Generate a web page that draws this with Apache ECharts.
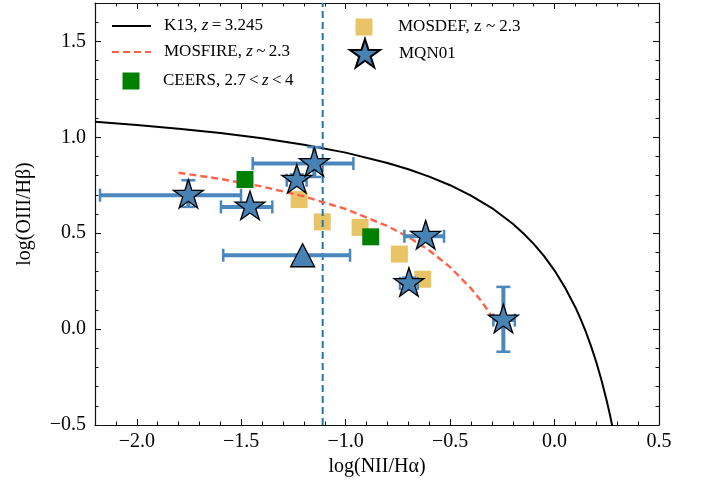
<!DOCTYPE html>
<html>
<head>
<meta charset="utf-8">
<script src="https://cdn.jsdelivr.net/npm/echarts@6/dist/echarts.min.js"></script>
<style>html,body{margin:0;padding:0;background:#fff;}#c{width:702px;height:486px;}</style>
</head>
<body>
<div id="c"></div>
<script>
// ---- data ----
const X_TICKS = [-2.0, -1.5, -1.0, -0.5, 0.0, 0.5];
const Y_TICKS = [-0.5, 0.0, 0.5, 1.0, 1.5];

// K13 curve, z = 3.245
const k13X = [-2.2, -2.0, -1.8, -1.6, -1.4, -1.2, -1.0, -0.8, -0.7, -0.6, -0.5, -0.4, -0.3, -0.2, -0.15, -0.1, -0.05, 0.0, 0.05, 0.1, 0.125, 0.15, 0.175, 0.2, 0.225, 0.25, 0.265, 0.28];
const k13Y = [1.081, 1.064, 1.045, 1.022, 0.995, 0.961, 0.920, 0.866, 0.833, 0.795, 0.750, 0.696, 0.631, 0.549, 0.500, 0.444, 0.380, 0.305, 0.217, 0.113, 0.052, -0.015, -0.090, -0.173, -0.268, -0.375, -0.446, -0.525];

// MOSFIRE z~2.3 curve
const mosfireX = [-1.8, -1.6, -1.4, -1.2, -1.0, -0.8, -0.7, -0.6, -0.5, -0.4, -0.35, -0.3];
const mosfireY = [0.815, 0.783, 0.743, 0.692, 0.626, 0.537, 0.480, 0.410, 0.323, 0.212, 0.145, 0.067];

// vertical dashed line
const vLineX = -1.11;

// CEERS 2.7<z<4
const ceersX = [-1.482, -0.880];
const ceersY = [0.780, 0.481];

// MOSDEF z~2.3
const mosdefX = [-1.223, -1.112, -0.931, -0.743, -0.631];
const mosdefY = [0.675, 0.559, 0.530, 0.391, 0.260];

// MQN01 stars
const mqnX   = [-1.753, -1.458, -1.234, -1.150, -0.617, -0.697, -0.245];
const mqnY   = [0.698, 0.637, 0.776, 0.863, 0.484, 0.238, 0.047];
const mqnXLo = [-2.176, -1.597, -1.282, -1.445, -0.719, -0.740, -0.293];
const mqnXHi = [-1.501, -1.351, -1.187, -0.963, -0.529, -0.655, -0.190];
const mqnYLo = [0.637, 0.617, 0.746, 0.793, 0.464, 0.208, -0.118];
const mqnYHi = [0.776, 0.657, 0.806, 0.949, 0.504, 0.268, 0.220];

// MQN01 triangle
const triX = [-1.206];
const triY = [0.385];
const triXLo = [-1.586];
const triXHi = [-0.979];

// ---- chart ----
const FONT = 'Liberation Serif';
const STEEL = '#4682b4';
const EB = '#4a87bc';
const STAR = 'path://M50,0 L61.23,34.55 L97.55,34.55 L68.16,55.9 L79.39,90.45 L50,69.1 L20.61,90.45 L31.84,55.9 L2.45,34.55 L38.77,34.55 Z';

function zip(a, b) { return a.map((v, i) => [v, b[i]]); }
function fmt(v) { return (v < -1e-9 ? '\u2212' : '') + Math.abs(v).toFixed(1); }
function range(a, b, s) { const r = []; for (let v = a; v <= b + 1e-9; v += s) r.push(Math.round(v * 10) / 10); return r; }
const xMinor = range(-2.2, 0.5, 0.1);
const yMinor = range(-0.5, 1.7, 0.1);

const errData = [];
mqnX.forEach((x, i) => errData.push([x, mqnY[i], mqnXLo[i], mqnXHi[i], mqnYLo[i], mqnYHi[i]]));
triX.forEach((x, i) => errData.push([x, triY[i], triXLo[i], triXHi[i], triY[i], triY[i]]));

const axisLineStyle = { color: '#111', width: 1.2 };

function xAxisMain(pos, labels) {
  return {
    type: 'value', position: pos, min: -2.2, max: 0.5, gridIndex: 0,
    axisLine: { show: true, onZero: false, lineStyle: axisLineStyle },
    axisTick: { show: true, inside: true, length: 6, customValues: X_TICKS, lineStyle: { color: '#111', width: 1 } },
    axisLabel: { show: labels, customValues: X_TICKS, formatter: fmt, fontFamily: FONT, fontSize: 20, color: '#000', margin: 7 },
    splitLine: { show: false },
    name: labels ? 'log(NII/H\u03b1)' : '', nameLocation: 'middle', nameGap: 32,
    nameTextStyle: { fontFamily: FONT, fontSize: 20, color: '#000' }
  };
}
function xAxisMinor(pos) {
  return {
    type: 'value', position: pos, min: -2.2, max: 0.5, gridIndex: 0,
    axisLine: { show: false, onZero: false },
    axisTick: { show: true, inside: true, length: 3.5, customValues: xMinor, lineStyle: { color: '#111', width: 1 } },
    axisLabel: { show: false }, splitLine: { show: false }
  };
}
function yAxisMain(pos, labels) {
  return {
    type: 'value', position: pos, min: -0.5, max: 1.7, gridIndex: 0,
    axisLine: { show: true, onZero: false, lineStyle: axisLineStyle },
    axisTick: { show: true, inside: true, length: 6, customValues: Y_TICKS, lineStyle: { color: '#111', width: 1 } },
    axisLabel: { show: labels, customValues: Y_TICKS, formatter: fmt, fontFamily: FONT, fontSize: 20, color: '#000', margin: 9 },
    splitLine: { show: false },
    name: labels ? 'log(OIII/H\u03b2)' : '', nameLocation: 'middle', nameGap: 60,
    nameTextStyle: { fontFamily: FONT, fontSize: 20, color: '#000' }
  };
}
function yAxisMinor(pos) {
  return {
    type: 'value', position: pos, min: -0.5, max: 1.7, gridIndex: 0,
    axisLine: { show: false, onZero: false },
    axisTick: { show: true, inside: true, length: 3.5, customValues: yMinor, lineStyle: { color: '#111', width: 1 } },
    axisLabel: { show: false }, splitLine: { show: false }
  };
}

const txt = { fontFamily: FONT, fontSize: 17, color: '#000', lineHeight: 20 };
const rich = { n: { fontFamily: FONT, fontSize: 17, color: '#000' }, i: { fontFamily: FONT, fontSize: 17, fontStyle: 'italic', color: '#000' } };
function leg(name, left, top, w, h, pad, formatter, isLine) {
  const l = {
    data: [name], left: left, top: top, padding: 0, itemWidth: w, itemHeight: h,
    selectedMode: false, orient: 'vertical',
    textStyle: Object.assign({}, txt, { padding: [0, 0, 0, pad], rich: rich }),
    formatter: formatter
  };
  if (isLine) l.itemStyle = { opacity: 0, borderWidth: 0 };
  return l;
}

const option = {
  animation: false,
  backgroundColor: '#fff',
  grid: { left: 95, right: 43, top: 3, bottom: 61, containLabel: false, outerBoundsMode: 'none' },
  xAxis: [xAxisMain('bottom', true), xAxisMain('top', false), xAxisMinor('bottom'), xAxisMinor('top')],
  yAxis: [yAxisMain('left', true), yAxisMain('right', false), yAxisMinor('left'), yAxisMinor('right')],
  legend: [
    leg('K13', 111, 16, 39, 14, 8, () => '{n|K13, }{i|z}{n|\u2009=\u20093.245}', true),
    leg('MOSFIRE', 111, 42, 39, 14, 8, () => '{n|MOSFIRE, }{i|z}{n|\u2009~\u20092.3}', true),
    leg('CEERS', 122.5, 71, 17, 17, 18.5, () => '{n|CEERS, 2.7\u2009<\u2009}{i|z}{n|\u2009<\u20094}'),
    leg('MOSDEF', 355.5, 17, 17, 17, 20.5, () => '{n|MOSDEF, z ~ 2.3}'),
    leg('MQN01', 349, 38, 30, 28.5, 14, () => '{n|MQN01}')
  ],
  series: [
    { name: 'K13', type: 'line', data: zip(k13X, k13Y), symbol: 'none', smooth: false, clip: true, z: 3,
      lineStyle: { color: '#000', width: 2 }, itemStyle: { color: '#000' } },
    { name: 'MOSFIRE', type: 'line', data: zip(mosfireX, mosfireY), symbol: 'none', clip: true, z: 4,
      lineStyle: { color: '#ff6347', width: 2.4, type: [7, 4] }, itemStyle: { color: '#ff6347' } },
    { name: 'vline', type: 'line', data: [[vLineX, -0.5], [vLineX, 1.7]], symbol: 'none', z: 3,
      lineStyle: { color: '#1f77b4', width: 2, type: [7, 4] } },
    { name: 'MOSDEF', type: 'scatter', data: zip(mosdefX, mosdefY), symbol: 'rect', symbolSize: 17, z: 2,
      itemStyle: { color: '#e8c466', opacity: 1 } },
    { name: 'CEERS', type: 'scatter', data: zip(ceersX, ceersY), symbol: 'rect', symbolSize: 17, z: 5,
      itemStyle: { color: '#008000', opacity: 1 } },
    { name: 'MQN01err', type: 'custom', z: 6, data: errData, encode: { x: 0, y: 1 },
      renderItem: function (params, api) {
        const x = api.value(0), y = api.value(1), xl = api.value(2), xh = api.value(3), yl = api.value(4), yh = api.value(5);
        const ch = [];
        const bar = { stroke: EB, lineWidth: 4 };
        const cap = { stroke: EB, lineWidth: 2.5 };
        if (xh > xl) {
          const a = api.coord([xl, y]), b = api.coord([xh, y]);
          ch.push({ type: 'line', shape: { x1: a[0], y1: a[1], x2: b[0], y2: b[1] }, style: bar });
          ch.push({ type: 'line', shape: { x1: a[0], y1: a[1] - 6.5, x2: a[0], y2: a[1] + 6.5 }, style: cap });
          ch.push({ type: 'line', shape: { x1: b[0], y1: b[1] - 6.5, x2: b[0], y2: b[1] + 6.5 }, style: cap });
        }
        if (yh > yl) {
          const a = api.coord([x, yl]), b = api.coord([x, yh]);
          ch.push({ type: 'line', shape: { x1: a[0], y1: a[1], x2: b[0], y2: b[1] }, style: bar });
          ch.push({ type: 'line', shape: { x1: a[0] - 7, y1: a[1], x2: a[0] + 7, y2: a[1] }, style: cap });
          ch.push({ type: 'line', shape: { x1: b[0] - 7, y1: b[1], x2: b[0] + 7, y2: b[1] }, style: cap });
        }
        return { type: 'group', children: ch };
      } },
    { name: 'MQN01', type: 'scatter', data: zip(mqnX, mqnY), symbol: STAR, symbolSize: [30, 28.5], symbolOffset: [0, -1.5], z: 8,
      itemStyle: { color: STEEL, borderColor: '#000', borderWidth: 1.3, opacity: 1 } },
    { name: 'MQN01tri', type: 'scatter', data: zip(triX, triY), symbol: 'triangle', symbolSize: [24, 23], z: 8,
      itemStyle: { color: STEEL, borderColor: '#000', borderWidth: 1.3, opacity: 1 } }
  ]
};

const chart = echarts.init(document.getElementById('c'), null, { renderer: 'canvas' });
chart.setOption(option);
</script>
</body>
</html>
